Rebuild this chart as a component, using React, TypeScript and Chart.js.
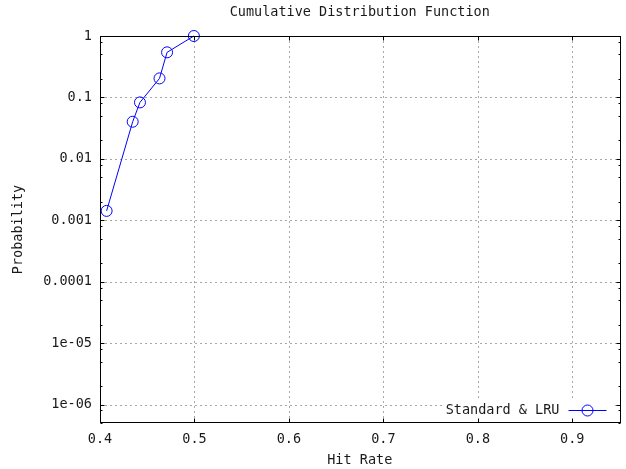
import React, { useEffect, useRef } from "react";
import { Chart, registerables } from "chart.js";

Chart.register(...registerables);

// ---- data ----
const seriesLabel = "Standard & LRU";
const hitRate = [0.407, 0.4346, 0.4423, 0.463, 0.471, 0.4994];
const probability = [0.00142, 0.0402, 0.0829, 0.204, 0.542, 1];

const xTickValues = [0.4, 0.5, 0.6, 0.7, 0.8, 0.9];
const xTickLabels = ["0.4", "0.5", "0.6", "0.7", "0.8", "0.9"];
const yTickValues = [1, 0.1, 0.01, 0.001, 0.0001, 1e-5, 1e-6];
const yTickLabels = ["1", "0.1", "0.01", "0.001", "0.0001", "1e-05", "1e-06"];
const yMinorFactors = [2, 5, 8];
const xRange = [0.4, 0.95];
const yRange = [5e-7, 1];

const titleText = "Cumulative Distribution Function";
const xTitleText = "Hit Rate";
const yTitleText = "Probability";

const FONT_FAMILY = "'DejaVu Sans Mono', monospace";
const FONT_SIZE = 13.5;
const TEXT_COLOR = "#1a1a1a";
const LINE_COLOR = "#0000ff";
const GRID_COLOR = "#a8a8a8";

const frame = {
  id: "gnuplotFrame",
  beforeDatasetsDraw(chart: any) {
    const { ctx, chartArea: a, scales } = chart;
    const x = scales.x;
    const y = scales.y;
    ctx.save();
    ctx.strokeStyle = GRID_COLOR;
    ctx.lineWidth = 1;
    ctx.setLineDash([2, 3]);
    xTickValues.forEach((v) => {
      const px = Math.round(x.getPixelForValue(v)) + 0.5;
      if (px <= a.left + 1) return;
      ctx.beginPath();
      ctx.moveTo(px, a.top);
      ctx.lineTo(px, a.bottom);
      ctx.stroke();
    });
    yTickValues.forEach((v) => {
      const py = Math.round(y.getPixelForValue(v)) + 0.5;
      if (py <= a.top + 1) return;
      ctx.beginPath();
      ctx.moveTo(a.left, py);
      ctx.lineTo(a.right, py);
      ctx.stroke();
    });
    ctx.setLineDash([]);
    // legend background (key area blanks the grid)
    ctx.font = `${FONT_SIZE}px ${FONT_FAMILY}`;
    const sampleEnd = a.right - 13;
    const sampleStart = sampleEnd - 38;
    const textRight = sampleStart - 9;
    const tw = ctx.measureText(seriesLabel).width;
    ctx.fillStyle = "#ffffff";
    ctx.fillRect(textRight - tw - 2, a.bottom - 24, a.right - 7 - (textRight - tw - 2), 23);
    ctx.restore();
  },
  afterDatasetsDraw(chart: any) {
    const { ctx, chartArea: a, scales } = chart;
    const x = scales.x;
    const y = scales.y;
    ctx.save();
    // border
    ctx.strokeStyle = "#000000";
    ctx.lineWidth = 1;
    const L = Math.round(a.left) + 0.5;
    const R = Math.round(a.right) + 0.5;
    const T = Math.round(a.top) + 0.5;
    const B = Math.round(a.bottom) - 0.5;
    ctx.strokeRect(L, T, R - L, B - T);
    // ticks
    ctx.beginPath();
    xTickValues.forEach((v) => {
      const px = Math.round(x.getPixelForValue(v)) + 0.5;
      ctx.moveTo(px, B);
      ctx.lineTo(px, B - 4);
      ctx.moveTo(px, T);
      ctx.lineTo(px, T + 4);
    });
    yTickValues.forEach((v) => {
      const py = Math.round(y.getPixelForValue(v)) + 0.5;
      ctx.moveTo(L, py);
      ctx.lineTo(L + 4, py);
      ctx.moveTo(R, py);
      ctx.lineTo(R - 4, py);
    });
    for (let e = -7; e <= 0; e++) {
      yMinorFactors.forEach((f) => {
        const v = f * Math.pow(10, e);
        if (v < yRange[0] || v > yRange[1]) return;
        const py = Math.round(y.getPixelForValue(v)) + 0.5;
        ctx.moveTo(L, py);
        ctx.lineTo(L + 2, py);
        ctx.moveTo(R, py);
        ctx.lineTo(R - 2, py);
      });
    }
    ctx.stroke();

    // title
    ctx.fillStyle = TEXT_COLOR;
    ctx.font = `${FONT_SIZE}px ${FONT_FAMILY}`;
    ctx.textAlign = "center";
    ctx.textBaseline = "middle";
    ctx.fillText(titleText, (a.left + a.right) / 2, 12);

    // legend
    const ly = Math.round(a.bottom) - 13 + 0.5;
    const sampleEnd = a.right - 13;
    const sampleStart = sampleEnd - 38;
    const textRight = sampleStart - 9;
    ctx.textAlign = "right";
    ctx.fillText(chart.data.datasets[0].label, textRight, ly);
    ctx.strokeStyle = LINE_COLOR;
    ctx.beginPath();
    ctx.moveTo(sampleStart, ly);
    ctx.lineTo(sampleEnd, ly);
    ctx.stroke();
    ctx.beginPath();
    ctx.arc((sampleStart + sampleEnd) / 2, ly, 5.5, 0, Math.PI * 2);
    ctx.stroke();
    ctx.restore();
  },
};

export default function App() {
  const ref = useRef<HTMLCanvasElement | null>(null);
  useEffect(() => {
    if (!ref.current) return;
    const font = { family: FONT_FAMILY, size: FONT_SIZE };
    const chart = new Chart(ref.current, {
      type: "scatter",
      data: {
        datasets: [
          {
            label: seriesLabel,
            data: hitRate.map((h, i) => ({ x: h, y: probability[i] })),
            showLine: true,
            clip: false,
            borderColor: LINE_COLOR,
            borderWidth: 1,
            backgroundColor: "rgba(0,0,0,0)",
            pointRadius: 5.5,
            pointBorderWidth: 1,
            pointBorderColor: LINE_COLOR,
            pointBackgroundColor: "rgba(0,0,0,0)",
            pointStyle: "circle",
          },
        ],
      },
      options: {
        animation: false,
        responsive: false,
        devicePixelRatio: 1,
        layout: { padding: { top: 36, right: 5, left: 0, bottom: 0 } },
        plugins: {
          legend: { display: false },
          title: { display: false },
          tooltip: { enabled: false },
        },
        scales: {
          x: {
            type: "linear",
            min: xRange[0],
            max: xRange[1],
            afterBuildTicks: (s: any) => {
              s.ticks = xTickValues.map((v) => ({ value: v }));
            },
            afterFit: (s: any) => {
              s.height = 46;
            },
            grid: { display: false, drawTicks: false },
            border: { display: false },
            ticks: {
              font,
              color: TEXT_COLOR,
              padding: 8,
              maxRotation: 0,
              autoSkip: false,
              callback: (v: any, i: number) => xTickLabels[i],
            },
            title: {
              display: true,
              text: xTitleText,
              font,
              color: TEXT_COLOR,
              padding: { top: 0, bottom: 0 },
            },
          },
          y: {
            type: "logarithmic",
            min: yRange[0],
            max: yRange[1],
            afterBuildTicks: (s: any) => {
              s.ticks = yTickValues.map((v) => ({ value: v, major: true }));
            },
            afterFit: (s: any) => {
              s.width = 100;
            },
            grid: { display: false, drawTicks: false },
            border: { display: false },
            ticks: {
              font,
              color: TEXT_COLOR,
              padding: 8,
              autoSkip: false,
              callback: (v: any, i: number) => yTickLabels[i],
            },
            title: {
              display: true,
              text: yTitleText,
              font,
              color: TEXT_COLOR,
              padding: { top: 10, bottom: 0 },
            },
          },
        },
      } as any,
      plugins: [frame],
    });
    return () => chart.destroy();
  }, []);
  return (
    <div style={{ position: "absolute", left: 0, top: 0, width: 626, height: 469, background: "#fff" }}>
      <canvas ref={ref} width={626} height={469} />
    </div>
  );
}
